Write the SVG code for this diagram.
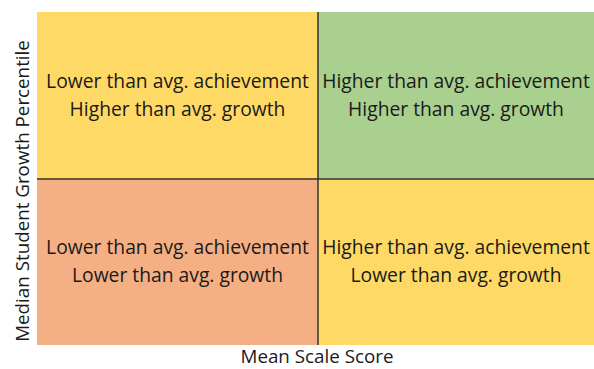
<svg xmlns="http://www.w3.org/2000/svg" width="594" height="369" viewBox="0 0 594 369">
<style>
.t{font-family:"Open Sans","Liberation Sans",Arial,sans-serif;font-size:19.3px;fill:#1a1a1a;text-anchor:middle}
.ax{font-family:"Open Sans","Liberation Sans",Arial,sans-serif;font-size:18.8px;fill:#1a1a1a;text-anchor:middle}
</style>
<rect width="594" height="369" fill="#ffffff"/>
<g id="q-top-left"><rect x="37" y="12" width="281" height="167" fill="#ffd966"/>
<text class="t" x="177.5" y="88">Lower than avg. achievement</text>
<text class="t" x="177.5" y="116">Higher than avg. growth</text></g>
<g id="q-top-right"><rect x="318" y="12" width="276" height="167" fill="#a9d08e"/>
<text class="t" x="456" y="88">Higher than avg. achievement</text>
<text class="t" x="456" y="116">Higher than avg. growth</text></g>
<g id="q-bottom-left"><rect x="37" y="179" width="281" height="166" fill="#f4b084"/>
<text class="t" x="177.5" y="254">Lower than avg. achievement</text>
<text class="t" x="177.5" y="282">Lower than avg. growth</text></g>
<g id="q-bottom-right"><rect x="318" y="179" width="276" height="166" fill="#ffd966"/>
<text class="t" x="456" y="254">Higher than avg. achievement</text>
<text class="t" x="456" y="282">Lower than avg. growth</text></g>
<g id="connectors" stroke="#333" stroke-width="1.5">
<line x1="318" y1="12" x2="318" y2="345"/>
<line x1="37" y1="179" x2="594" y2="179"/>
</g>
<text class="ax" x="317" y="363">Mean Scale Score</text>
<text class="ax" transform="translate(29 191) rotate(-90)">Median Student Growth Percentile</text>
</svg>
